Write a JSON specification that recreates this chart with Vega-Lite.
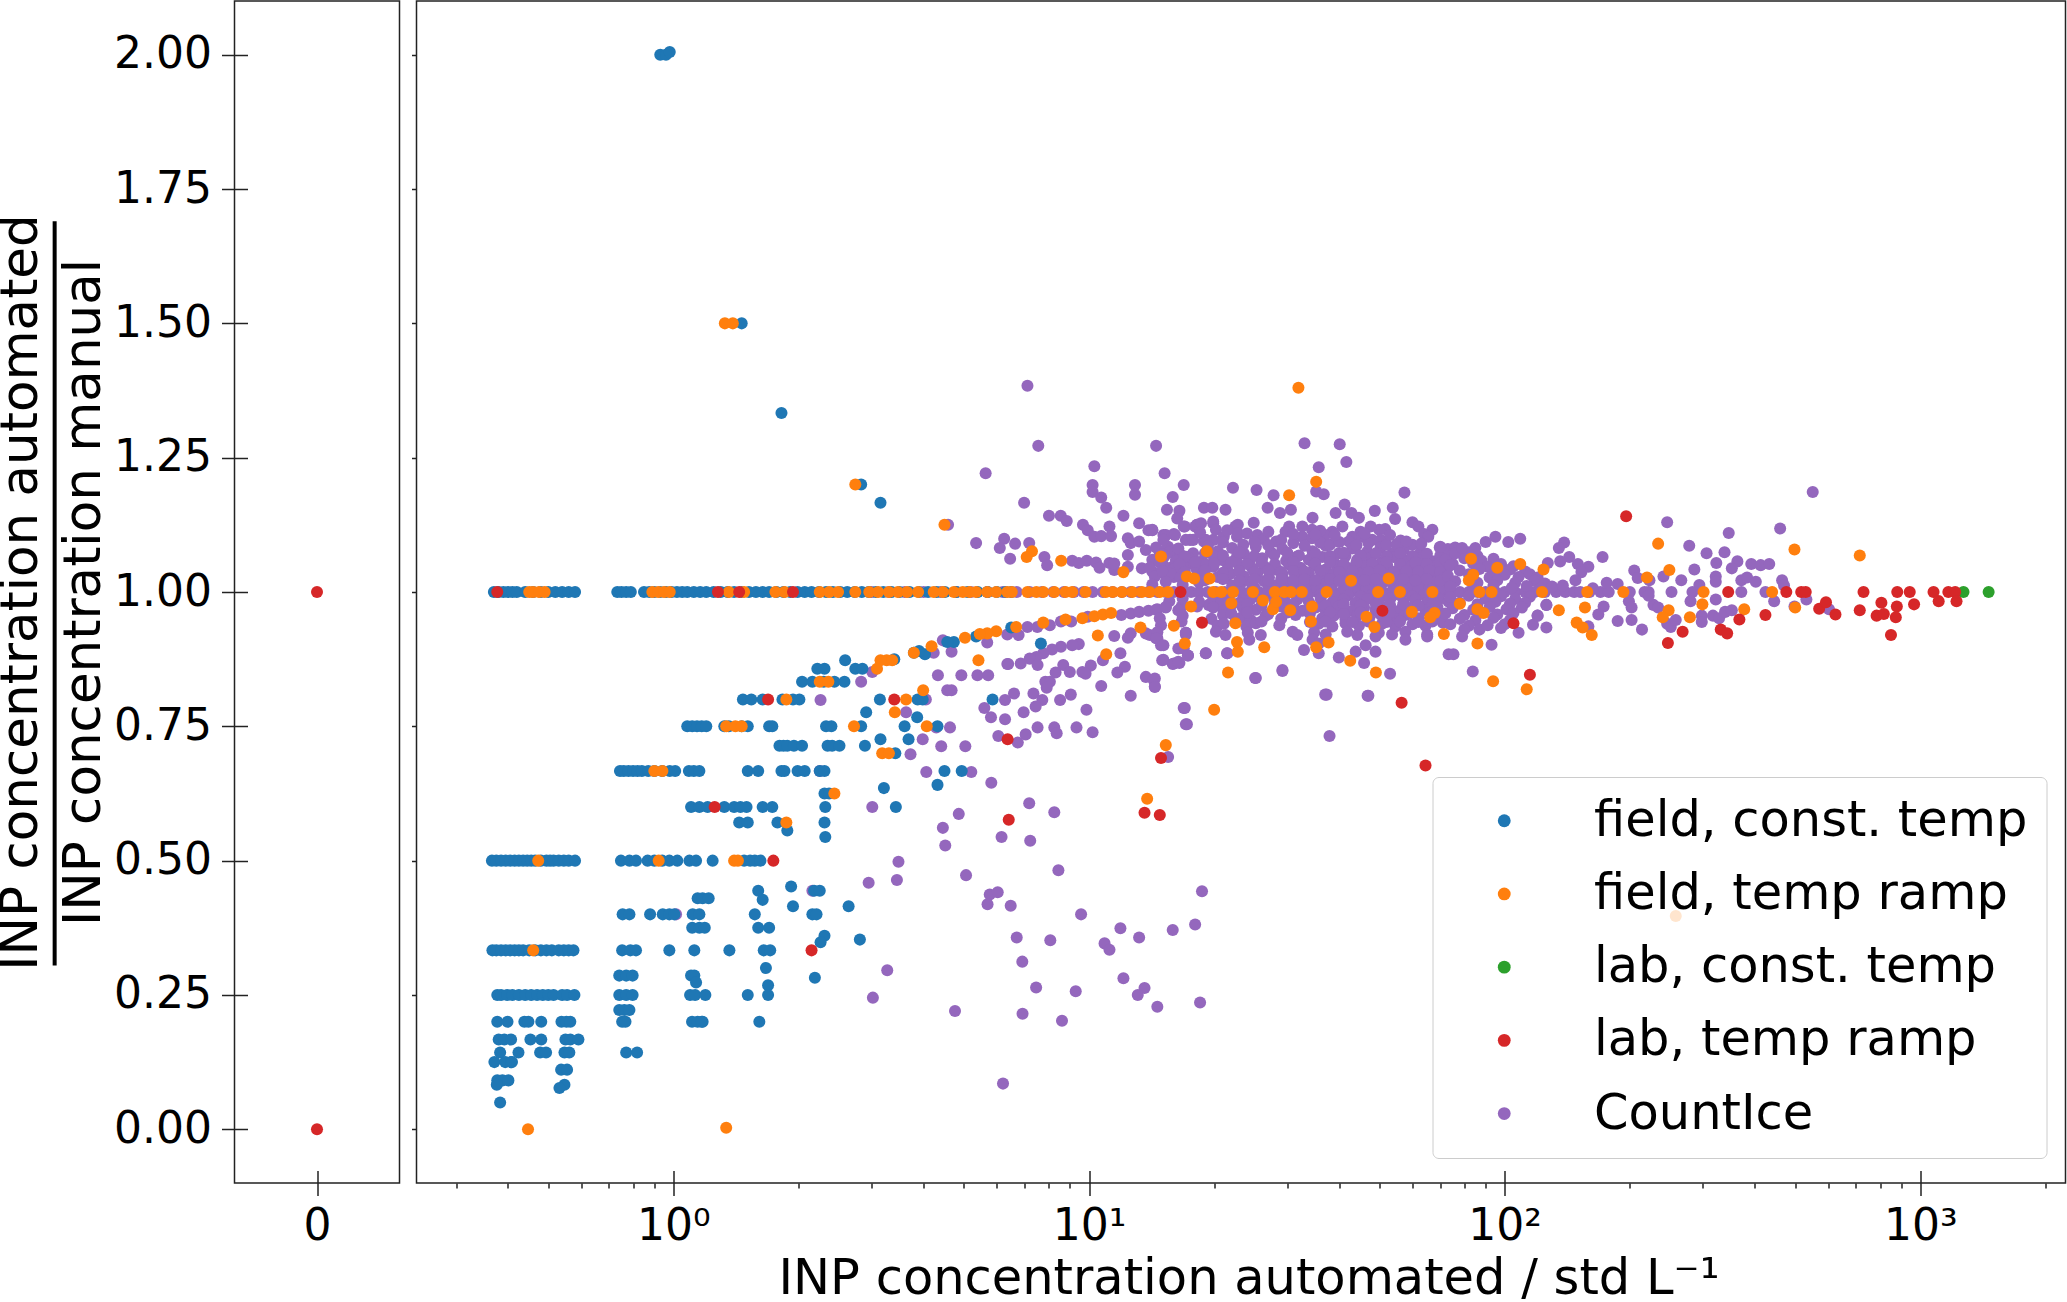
{
"$schema":"https://vega.github.io/schema/vega-lite/v6.json",
"padding":{"left":-5.5,"top":0,"right":0,"bottom":0},
"background":"white",
"spacing":9,
"config":{"view":{"stroke":"#222","strokeWidth":1.5},"font":"DejaVu Sans",
"axis":{"grid":false,"domain":false,"labelFont":"DejaVu Sans","titleFont":"DejaVu Sans","labelColor":"black","titleColor":"black","tickColor":"#222","tickWidth":1.5,"titleFontWeight":"normal","labelFontSize":44,"titleFontSize":51.5}},
"datasets":{
"frac":[{"x":-3.18,"y":1.69,"y2":0.305}],
"zeros":[{"x":0,"y":1},{"x":0,"y":0}],
"tick":[{"x":1,"y":1}],
"countice":[
{"x":3.0,"y":1},{"x":3.3,"y":1},{"x":3.6,"y":1},{"x":4.0,"y":1},{"x":4.4,"y":1},{"x":4.8,"y":1},{"x":5.2,"y":1},{"x":5.7,"y":1},{"x":6.2,"y":1},{"x":6.7,"y":1},{"x":7.2,"y":1},{"x":7.7,"y":1},{"x":8.2,"y":1},{"x":8.7,"y":1},{"x":9.2,"y":1},{"x":9.7,"y":1},{"x":10.2,"y":1},{"x":10.8,"y":1},{"x":11.4,"y":1},{"x":12,"y":1},{"x":12.6,"y":1},{"x":13.2,"y":1},{"x":13.9,"y":1},{"x":14.6,"y":1},{"x":15.3,"y":1},{"x":16,"y":1},{"x":16.8,"y":1},{"x":17.6,"y":1},{"x":18.4,"y":1},{"x":19.3,"y":1},{"x":20.2,"y":1},{"x":21.2,"y":1},{"x":22.2,"y":1},{"x":23.3,"y":1},{"x":24.4,"y":1},{"x":25.6,"y":1},{"x":26.8,"y":1},{"x":28,"y":1},{"x":29.4,"y":1},{"x":30.8,"y":1},{"x":32.3,"y":1},{"x":33.8,"y":1},{"x":35.4,"y":1},{"x":37,"y":1},{"x":38.8,"y":1},{"x":40.6,"y":1},{"x":42.5,"y":1},{"x":44.5,"y":1},{"x":46.6,"y":1},{"x":48.8,"y":1},{"x":51,"y":1},{"x":53.5,"y":1},{"x":56,"y":1},{"x":58.6,"y":1},{"x":61.4,"y":1},{"x":64.3,"y":1},{"x":67.3,"y":1},{"x":70.5,"y":1},{"x":74,"y":1},{"x":78,"y":1},{"x":82,"y":1},{"x":86,"y":1},{"x":90,"y":1},{"x":95,"y":1},{"x":100,"y":1},{"x":106,"y":1},{"x":112,"y":1},{"x":118,"y":1},{"x":125,"y":1},{"x":133,"y":1},{"x":140,"y":1},{"x":147,"y":1},{"x":152,"y":1},{"x":160,"y":1},{"x":170,"y":1},{"x":178,"y":1},{"x":200,"y":1},{"x":217,"y":1},{"x":222,"y":1},{"x":252,"y":1},{"x":283,"y":1},{"x":371,"y":1},{"x":424,"y":1},
{"x":7.11,"y":1.384},{"x":7.55,"y":1.272},{"x":14.5,"y":1.272},{"x":33,"y":1.277},{"x":40.1,"y":1.275},{"x":41.6,"y":1.242},{"x":10.3,"y":1.234},{"x":15.2,"y":1.221},{"x":5.64,"y":1.221},{"x":35.7,"y":1.232},{"x":10.2,"y":1.199},{"x":12.9,"y":1.199},{"x":16.9,"y":1.199},{"x":22.2,"y":1.194},{"x":25.3,"y":1.19},{"x":27.8,"y":1.18},{"x":35.2,"y":1.187},{"x":36.7,"y":1.182},{"x":10.2,"y":1.186},{"x":10.7,"y":1.176},{"x":12.9,"y":1.181},{"x":6.98,"y":1.166},{"x":15.9,"y":1.177},{"x":11,"y":1.157},{"x":8.01,"y":1.142},{"x":8.55,"y":1.142},{"x":8.84,"y":1.132},{"x":12.1,"y":1.142},{"x":15.4,"y":1.153},{"x":16.5,"y":1.151},{"x":18.9,"y":1.157},{"x":19.8,"y":1.157},{"x":21.3,"y":1.153},{"x":41.2,"y":1.163},{"x":26.9,"y":1.157},{"x":28.8,"y":1.147},{"x":30.6,"y":1.153},{"x":24.9,"y":1.129},{"x":34.5,"y":1.138},{"x":39.2,"y":1.147},{"x":42.8,"y":1.147},{"x":44.6,"y":1.138},{"x":48.7,"y":1.151},{"x":53.8,"y":1.157},{"x":54.5,"y":1.136},{"x":57.4,"y":1.185},{"x":4.58,"y":1.125},
{"x":5.35,"y":1.091},{"x":6.25,"y":1.099},{"x":6.64,"y":1.09},{"x":7.18,"y":1.091},{"x":6.1,"y":1.082},{"x":6.46,"y":1.062},{"x":7.81,"y":1.065},{"x":7.93,"y":1.05},{"x":9.11,"y":1.058},{"x":9.45,"y":1.054},{"x":9.88,"y":1.058},{"x":10.4,"y":1.055},{"x":10.6,"y":1.045},{"x":11.2,"y":1.054},{"x":11.5,"y":1.041},
{"x":12.4,"y":1.1},{"x":12.6,"y":1.091},{"x":13.2,"y":1.094},{"x":12.4,"y":1.069},{"x":13.7,"y":1.078},{"x":14.8,"y":1.072},{"x":15.5,"y":1.084},{"x":17.5,"y":1.097},{"x":15.1,"y":1.106},{"x":16,"y":1.108},{"x":18.9,"y":1.094},{"x":19.9,"y":1.128},{"x":16.9,"y":1.122},{"x":18.2,"y":1.125},{"x":13.9,"y":1.115},{"x":13.2,"y":1.128},{"x":14.2,"y":1.115},{"x":9.67,"y":1.125},{"x":9.93,"y":1.115},{"x":10.3,"y":1.103},{"x":10.7,"y":1.104},{"x":11.2,"y":1.122},{"x":11.3,"y":1.104},{"x":15.3,"y":1.078},{"x":16.5,"y":1.072},{"x":15.9,"y":1.047},{"x":17.5,"y":1.053},{"x":18.9,"y":1.053},{"x":20.8,"y":1.06},{"x":13.4,"y":1.044},{"x":14.2,"y":1.038},{"x":15.1,"y":1.035},{"x":16,"y":1.028},{"x":12.4,"y":1.047},{"x":11.5,"y":1.053},{"x":16.2,"y":1.06},{"x":19.9,"y":1.047},{"x":21.4,"y":1.028},{"x":19.9,"y":1.097},{"x":22.5,"y":1.122},{"x":22.7,"y":1.103},
{"x":4.45,"y":0.91},{"x":4.67,"y":0.889},{"x":4.23,"y":0.887},{"x":5.69,"y":0.906},{"x":6.36,"y":0.921},{"x":6.77,"y":0.92},{"x":7.11,"y":0.935},{"x":7.51,"y":0.935},{"x":8.05,"y":0.938},{"x":8.56,"y":0.945},{"x":9.06,"y":0.945},{"x":9.93,"y":0.954},{"x":11.96,"y":0.957},{"x":12.6,"y":0.96},{"x":13.2,"y":0.963},{"x":13.9,"y":0.965},{"x":14.6,"y":0.968},{"x":15.3,"y":0.971},{"x":16.7,"y":0.973},{"x":18.2,"y":0.973},{"x":19.4,"y":0.976},{"x":17.1,"y":0.924},{"x":16.7,"y":0.945},{"x":14.9,"y":0.938},{"x":13.7,"y":0.923},{"x":12.6,"y":0.923},{"x":11.5,"y":0.918},{"x":12.4,"y":0.915},{"x":14.6,"y":0.914},{"x":14.9,"y":0.901},{"x":16.9,"y":0.895},{"x":17.3,"y":0.882},{"x":16.5,"y":0.868},{"x":15.9,"y":0.866},{"x":15,"y":0.873},{"x":19.1,"y":0.886},{"x":21.5,"y":0.886},{"x":25.1,"y":0.84},{"x":29.2,"y":0.853},{"x":37.3,"y":0.809},{"x":46.8,"y":0.807},{"x":37.9,"y":0.732},{"x":17,"y":0.784},{"x":17.2,"y":0.754},{"x":15.5,"y":0.693},
{"x":9.45,"y":0.903},{"x":9.11,"y":0.901},{"x":8.56,"y":0.898},{"x":8.15,"y":0.893},{"x":7.76,"y":0.886},{"x":7.47,"y":0.879},{"x":7.2,"y":0.876},{"x":6.85,"y":0.867},{"x":6.36,"y":0.866},{"x":7.52,"y":0.864},{"x":8.67,"y":0.864},{"x":8.99,"y":0.851},{"x":9.64,"y":0.851},{"x":10.1,"y":0.863},{"x":9.81,"y":0.848},{"x":8.31,"y":0.85},{"x":10.8,"y":0.873},{"x":11.9,"y":0.886},{"x":12.2,"y":0.861},{"x":11.7,"y":0.85},{"x":13.7,"y":0.842},{"x":14.3,"y":0.836},{"x":14.4,"y":0.824},{"x":10.7,"y":0.825},{"x":12.6,"y":0.807},{"x":7.85,"y":0.833},{"x":8.05,"y":0.833},{"x":7.91,"y":0.822},{"x":9.04,"y":0.809},{"x":6.6,"y":0.811},{"x":7.35,"y":0.811},{"x":7.72,"y":0.799},{"x":7.44,"y":0.787},{"x":8.52,"y":0.799},{"x":6.28,"y":0.799},{"x":9.86,"y":0.781},{"x":6.96,"y":0.776},{"x":6.28,"y":0.763},{"x":5.6,"y":0.784},{"x":5.81,"y":0.767},{"x":7.52,"y":0.748},{"x":8.25,"y":0.748},{"x":8.36,"y":0.737},{"x":9.33,"y":0.748},{"x":10.2,"y":0.739},{"x":7.04,"y":0.735},{"x":6.74,"y":0.72},{"x":6.05,"y":0.732},
{"x":4.33,"y":0.845},{"x":4.93,"y":0.845},{"x":5.39,"y":0.845},{"x":5.72,"y":0.845},{"x":6.39,"y":0.866},{"x":4.56,"y":0.817},{"x":4.67,"y":0.817},{"x":2.83,"y":0.833},{"x":2.26,"y":0.799},{"x":3.63,"y":0.776},{"x":4.05,"y":0.8},{"x":4.29,"y":0.748},{"x":4.63,"y":0.748},{"x":3.98,"y":0.726},{"x":4.41,"y":0.713},{"x":5.04,"y":0.713},{"x":3.72,"y":0.698},{"x":4.06,"y":0.665},{"x":5.21,"y":0.665},{"x":5.82,"y":0.645},{"x":7.18,"y":0.607},{"x":8.25,"y":0.59},{"x":4.86,"y":0.587},{"x":3.01,"y":0.6},{"x":4.45,"y":0.561},{"x":6.16,"y":0.544},{"x":7.22,"y":0.537},{"x":4.51,"y":0.528},{"x":3.01,"y":0.851},{"x":1.015,"y":0.4},{"x":2.16,"y":0.444},{"x":2.25,"y":0.667},
{"x":3.48,"y":0.498},{"x":3.45,"y":0.464},{"x":2.95,"y":0.459},{"x":5.06,"y":0.473},{"x":8.44,"y":0.482},{"x":5.77,"y":0.437},{"x":6.03,"y":0.441},{"x":5.7,"y":0.419},{"x":6.48,"y":0.416},{"x":18.7,"y":0.443},{"x":9.57,"y":0.4},{"x":11.9,"y":0.374},{"x":13.2,"y":0.357},{"x":15.9,"y":0.371},{"x":18,"y":0.381},{"x":6.7,"y":0.357},{"x":8.07,"y":0.352},{"x":10.9,"y":0.346},{"x":11.2,"y":0.334},{"x":6.91,"y":0.312},{"x":3.27,"y":0.296},{"x":12.1,"y":0.281},{"x":7.46,"y":0.264},{"x":9.29,"y":0.257},{"x":13.6,"y":0.263},{"x":13.1,"y":0.25},{"x":14.6,"y":0.228},{"x":18.5,"y":0.236},{"x":3.02,"y":0.245},{"x":4.76,"y":0.22},{"x":6.92,"y":0.215},{"x":8.61,"y":0.202},{"x":6.21,"y":0.085},
{"x":60,"y":1.13},{"x":62,"y":1.122},{"x":67,"y":1.116},{"x":64,"y":1.108},{"x":65.5,"y":1.103},{"x":16.3,"y":1.137},{"x":17,"y":1.122},{"x":18,"y":1.122},{"x":18.2,"y":1.125},{"x":18.6,"y":1.128},{"x":19.9,"y":1.131},{"x":22.8,"y":1.125},{"x":22.8,"y":1.109},{"x":40.7,"y":1.122},{"x":38.5,"y":1.112},{"x":37,"y":1.106},{"x":32.6,"y":1.122},{"x":34.4,"y":1.116},{"x":36,"y":1.114},{"x":30.3,"y":1.122},{"x":29.7,"y":1.112},{"x":51.6,"y":1.117},{"x":49.9,"y":1.116},{"x":47.6,"y":1.122},{"x":45,"y":1.112},{"x":43,"y":1.103},{"x":14.2,"y":1.116},{"x":15.3,"y":1.106},{"x":16.1,"y":1.106},{"x":15.1,"y":1.097},{"x":17.1,"y":1.097},{"x":17.8,"y":1.097},{"x":19.1,"y":1.097},{"x":20.2,"y":1.116},{"x":21.1,"y":1.103},{"x":25.4,"y":1.106},{"x":26.3,"y":1.098},{"x":32.6,"y":1.103},{"x":34.4,"y":1.1},{"x":42.2,"y":1.094},{"x":45.4,"y":1.103},{"x":48,"y":1.097},{"x":50.3,"y":1.097},{"x":56.2,"y":1.096},{"x":60,"y":1.088},{"x":69.8,"y":1.083},{"x":28.2,"y":1.094},{"x":29,"y":1.097},{"x":74,"y":1.063},
{"x":14.5,"y":1.083},{"x":15.6,"y":1.074},{"x":16.4,"y":1.081},{"x":17.8,"y":1.072},{"x":19.3,"y":1.085},{"x":20.4,"y":1.076},{"x":22.1,"y":1.082},{"x":23.6,"y":1.071},{"x":25.2,"y":1.084},{"x":27.4,"y":1.074},{"x":29.2,"y":1.08},{"x":34.5,"y":1.076},{"x":37.1,"y":1.086},{"x":39.9,"y":1.072},{"x":43,"y":1.081},{"x":46.7,"y":1.075},{"x":50.3,"y":1.083},{"x":53.6,"y":1.071},{"x":57.2,"y":1.079},{"x":62.8,"y":1.074},
{"x":14.2,"y":1.06},{"x":15.2,"y":1.067},{"x":16.2,"y":1.058},{"x":17.3,"y":1.065},{"x":18.4,"y":1.056},{"x":19.9,"y":1.068},{"x":21.1,"y":1.059},{"x":22.7,"y":1.066},{"x":24.3,"y":1.057},{"x":26.1,"y":1.063},{"x":27.9,"y":1.069},{"x":29.8,"y":1.058},{"x":31.7,"y":1.066},{"x":33.8,"y":1.06},{"x":36.4,"y":1.065},{"x":38.8,"y":1.056},{"x":41.4,"y":1.067},{"x":44.2,"y":1.06},{"x":47.6,"y":1.064},{"x":50.7,"y":1.056},{"x":54.1,"y":1.065},{"x":57.7,"y":1.059},{"x":62.2,"y":1.063},{"x":67,"y":1.057},{"x":71.5,"y":1.061},
{"x":14,"y":1.045},{"x":15.1,"y":1.05},{"x":16,"y":1.043},{"x":16.8,"y":1.049},{"x":18.1,"y":1.044},{"x":19.1,"y":1.051},{"x":21.5,"y":1.042},{"x":23,"y":1.05},{"x":24.7,"y":1.044},{"x":26.4,"y":1.048},{"x":28.4,"y":1.041},{"x":30.3,"y":1.051},{"x":32.3,"y":1.045},{"x":34.8,"y":1.05},{"x":37.1,"y":1.042},{"x":39.5,"y":1.048},{"x":42.2,"y":1.044},{"x":45.5,"y":1.051},{"x":48.9,"y":1.043},{"x":52.2,"y":1.049},{"x":55.7,"y":1.042},{"x":60,"y":1.05},{"x":63.9,"y":1.044},{"x":68.2,"y":1.049},{"x":72.6,"y":1.043},
{"x":14.4,"y":1.029},{"x":15.7,"y":1.034},{"x":16.6,"y":1.027},{"x":18.8,"y":1.035},{"x":20.4,"y":1.028},{"x":21.9,"y":1.034},{"x":23.6,"y":1.029},{"x":25.4,"y":1.035},{"x":27.1,"y":1.027},{"x":29.2,"y":1.033},{"x":31.4,"y":1.029},{"x":33.8,"y":1.035},{"x":36.1,"y":1.027},{"x":38.8,"y":1.034},{"x":41.4,"y":1.029},{"x":44.6,"y":1.035},{"x":47.6,"y":1.028},{"x":51.2,"y":1.033},{"x":55.1,"y":1.029},{"x":58.8,"y":1.035},{"x":62.8,"y":1.027},{"x":67.6,"y":1.034},{"x":72,"y":1.029},
{"x":14.2,"y":1.014},{"x":15.3,"y":1.019},{"x":16.8,"y":1.013},{"x":18.4,"y":1.018},{"x":22.1,"y":1.012},{"x":23.4,"y":1.019},{"x":24.7,"y":1.014},{"x":26.4,"y":1.02},{"x":28.2,"y":1.012},{"x":30,"y":1.018},{"x":32,"y":1.013},{"x":34.5,"y":1.019},{"x":36.8,"y":1.014},{"x":39.2,"y":1.02},{"x":41.8,"y":1.012},{"x":45,"y":1.018},{"x":48,"y":1.014},{"x":51.7,"y":1.02},{"x":55.7,"y":1.012},{"x":59.4,"y":1.017},{"x":63.3,"y":1.013},{"x":68.2,"y":1.019},{"x":72.6,"y":1.012},
{"x":23,"y":1.006},{"x":25,"y":1.008},{"x":27,"y":1.005},{"x":29,"y":1.007},{"x":31,"y":1.006},{"x":33,"y":1.008},{"x":35.5,"y":1.005},{"x":38,"y":1.007},{"x":41,"y":1.006},{"x":43.5,"y":1.008},{"x":46.5,"y":1.005},{"x":50,"y":1.007},{"x":54,"y":1.006},{"x":58,"y":1.008},{"x":62,"y":1.005},{"x":66,"y":1.007},{"x":70,"y":1.006},
{"x":23.5,"y":0.994},{"x":25.5,"y":0.992},{"x":27.5,"y":0.995},{"x":29.5,"y":0.993},{"x":31.5,"y":0.994},{"x":33.5,"y":0.992},{"x":36,"y":0.995},{"x":39,"y":0.993},{"x":42,"y":0.994},{"x":45,"y":0.992},{"x":48,"y":0.995},{"x":52,"y":0.993},{"x":56,"y":0.994},{"x":60,"y":0.992},{"x":64,"y":0.995},{"x":68,"y":0.993},
{"x":15.6,"y":0.983},{"x":16.8,"y":0.988},{"x":18.4,"y":0.982},{"x":19.9,"y":0.987},{"x":20.8,"y":0.981},{"x":21.7,"y":0.986},{"x":23,"y":0.98},{"x":24.5,"y":0.987},{"x":26.1,"y":0.982},{"x":27.9,"y":0.988},{"x":29.8,"y":0.98},{"x":31.7,"y":0.986},{"x":33.8,"y":0.982},{"x":36.1,"y":0.988},{"x":38.5,"y":0.981},{"x":41,"y":0.986},{"x":43.8,"y":0.98},{"x":46.7,"y":0.987},{"x":49.8,"y":0.982},{"x":53.1,"y":0.988},{"x":57.2,"y":0.981},{"x":61,"y":0.986},{"x":65.1,"y":0.98},{"x":69.5,"y":0.987},{"x":73.3,"y":0.982},
{"x":14.5,"y":0.967},{"x":15.3,"y":0.972},{"x":16.4,"y":0.966},{"x":19.9,"y":0.971},{"x":21.1,"y":0.965},{"x":23.4,"y":0.972},{"x":25.2,"y":0.967},{"x":29,"y":0.973},{"x":32.6,"y":0.965},{"x":35.1,"y":0.971},{"x":37.1,"y":0.966},{"x":39.9,"y":0.973},{"x":43,"y":0.965},{"x":45.9,"y":0.971},{"x":48.9,"y":0.967},{"x":52.2,"y":0.973},{"x":55.7,"y":0.965},{"x":60,"y":0.971},{"x":64.5,"y":0.966},{"x":68.9,"y":0.972},
{"x":14.8,"y":0.951},{"x":16.8,"y":0.956},{"x":19.7,"y":0.95},{"x":21,"y":0.957},{"x":23.2,"y":0.952},{"x":24.5,"y":0.948},{"x":26.6,"y":0.956},{"x":29,"y":0.95},{"x":31.4,"y":0.957},{"x":36.4,"y":0.951},{"x":38.8,"y":0.956},{"x":41.4,"y":0.949},{"x":44.2,"y":0.957},{"x":47.2,"y":0.951},{"x":50.7,"y":0.956},{"x":54.6,"y":0.95},{"x":57.7,"y":0.957},{"x":62.2,"y":0.951},{"x":69.5,"y":0.955},
{"x":20.4,"y":0.937},{"x":21.1,"y":0.941},{"x":23.9,"y":0.936},{"x":25.2,"y":0.942},{"x":28.7,"y":0.938},{"x":35.7,"y":0.941},{"x":38.5,"y":0.936},{"x":41.4,"y":0.942},{"x":44.6,"y":0.937},{"x":50.7,"y":0.941},{"x":54.6,"y":0.936},{"x":60,"y":0.94},{"x":64.5,"y":0.937},
{"x":14,"y":0.92},{"x":14.6,"y":0.925},{"x":17.1,"y":0.921},{"x":20.2,"y":0.926},{"x":21.3,"y":0.92},{"x":24.1,"y":0.924},{"x":25.9,"y":0.92},{"x":30.9,"y":0.926},{"x":31.7,"y":0.92},{"x":34.8,"y":0.925},{"x":37.1,"y":0.921},{"x":41.8,"y":0.926},{"x":44.2,"y":0.92},{"x":49.8,"y":0.924},{"x":53.6,"y":0.921},{"x":57.7,"y":0.926},{"x":65.1,"y":0.921},
{"x":24.3,"y":0.911},{"x":14.5,"y":0.914},{"x":15.1,"y":0.901},{"x":17.1,"y":0.924},{"x":16.4,"y":0.895},{"x":34.5,"y":0.911},{"x":35.7,"y":0.904},{"x":46.3,"y":0.901},{"x":48.9,"y":0.917},{"x":57.7,"y":0.911},{"x":65.1,"y":0.917},
{"x":21,"y":1.092},{"x":23.5,"y":1.088},{"x":25,"y":1.093},{"x":27,"y":1.087},{"x":31,"y":1.091},{"x":33,"y":1.086},{"x":36,"y":1.092},{"x":38,"y":1.088},{"x":40,"y":1.093},{"x":44,"y":1.087},{"x":47,"y":1.091},{"x":52,"y":1.088},{"x":55,"y":1.089},{"x":58,"y":1.094},{"x":63,"y":1.09},
{"x":18.5,"y":1.111},{"x":21.5,"y":1.115},{"x":24,"y":1.109},{"x":27,"y":1.112},{"x":31,"y":1.108},{"x":35,"y":1.107},{"x":39,"y":1.106},{"x":46,"y":1.109},{"x":53,"y":1.106},
{"x":15,"y":1.07},{"x":17,"y":1.066},{"x":19,"y":1.072},{"x":21,"y":1.068},{"x":23,"y":1.074},{"x":25,"y":1.067},{"x":30,"y":1.073},{"x":32,"y":1.068},{"x":35,"y":1.072},{"x":38,"y":1.067},{"x":41,"y":1.073},{"x":45,"y":1.068},{"x":49,"y":1.072},{"x":52,"y":1.066},{"x":56,"y":1.072},{"x":60,"y":1.067},{"x":65,"y":1.071},{"x":70,"y":1.068},
{"x":14.8,"y":1.055},{"x":16.5,"y":1.052},{"x":18,"y":1.056},{"x":20,"y":1.053},{"x":22,"y":1.056},{"x":24,"y":1.052},{"x":26,"y":1.055},{"x":28,"y":1.052},{"x":31,"y":1.056},{"x":35,"y":1.053},{"x":38,"y":1.056},{"x":41,"y":1.052},{"x":44,"y":1.055},{"x":48,"y":1.053},{"x":52,"y":1.056},{"x":56,"y":1.052},{"x":61,"y":1.055},{"x":65,"y":1.052},{"x":70,"y":1.055},{"x":75,"y":1.052},
{"x":15,"y":1.039},{"x":17,"y":1.037},{"x":19,"y":1.04},{"x":21,"y":1.036},{"x":23,"y":1.039},{"x":25,"y":1.037},{"x":27,"y":1.04},{"x":29,"y":1.037},{"x":31,"y":1.039},{"x":33,"y":1.038},{"x":36,"y":1.04},{"x":40,"y":1.037},{"x":43,"y":1.039},{"x":47,"y":1.037},{"x":50,"y":1.04},{"x":54,"y":1.037},{"x":58,"y":1.039},{"x":62,"y":1.038},{"x":66,"y":1.04},{"x":70,"y":1.037},
{"x":19,"y":1.022},{"x":21,"y":1.024},{"x":23,"y":1.021},{"x":25,"y":1.024},{"x":27,"y":1.022},{"x":29,"y":1.024},{"x":31,"y":1.021},{"x":33,"y":1.024},{"x":35,"y":1.022},{"x":38,"y":1.024},{"x":40,"y":1.021},{"x":43,"y":1.024},{"x":46,"y":1.022},{"x":49,"y":1.024},{"x":53,"y":1.021},{"x":57,"y":1.024},{"x":61,"y":1.022},{"x":65,"y":1.024},{"x":70,"y":1.021},
{"x":22,"y":0.976},{"x":24,"y":0.977},{"x":26,"y":0.975},{"x":28,"y":0.977},{"x":31,"y":0.976},{"x":34,"y":0.977},{"x":37,"y":0.975},{"x":41,"y":0.977},{"x":45,"y":0.975},{"x":49,"y":0.977},{"x":53,"y":0.976},{"x":57,"y":0.977},{"x":62,"y":0.975},{"x":67,"y":0.976},
{"x":22,"y":0.96},{"x":24,"y":0.962},{"x":27,"y":0.959},{"x":30,"y":0.962},{"x":34,"y":0.96},{"x":38,"y":0.962},{"x":41,"y":0.959},{"x":45,"y":0.962},{"x":50,"y":0.96},{"x":53,"y":0.962},{"x":59,"y":0.96},{"x":66,"y":0.962},
{"x":22.5,"y":0.944},{"x":26,"y":0.945},{"x":34,"y":0.944},{"x":37,"y":0.945},{"x":43,"y":0.944},{"x":47,"y":0.945},{"x":52,"y":0.944},{"x":56,"y":0.945},{"x":62,"y":0.944},{"x":67,"y":0.945},{"x":71,"y":0.943},
{"x":15.1,"y":0.874},{"x":16,"y":0.867},{"x":16.4,"y":0.87},{"x":17.3,"y":0.882},{"x":19.1,"y":0.886},{"x":21.5,"y":0.886},{"x":32.9,"y":0.892},{"x":35.7,"y":0.886},{"x":39.9,"y":0.878},{"x":43.8,"y":0.889},{"x":45.9,"y":0.868},{"x":48.9,"y":0.889},{"x":53,"y":0.848},{"x":73.3,"y":0.884},{"x":29.2,"y":0.855},{"x":25.2,"y":0.84},{"x":14.4,"y":0.839},{"x":14.4,"y":0.823},{"x":37,"y":0.809},{"x":47,"y":0.807},{"x":16.9,"y":0.784},{"x":17.1,"y":0.754},
{"x":73,"y":1.08},{"x":76,"y":1.083},{"x":79,"y":1.077},{"x":75,"y":1.07},{"x":82,"y":1.074},{"x":86,"y":1.067},{"x":72,"y":1.06},{"x":80,"y":1.063},{"x":88,"y":1.058},{"x":94,"y":1.062},{"x":74,"y":1.05},{"x":84,"y":1.053},{"x":91,"y":1.047},{"x":98,"y":1.052},{"x":105,"y":1.048},{"x":78,"y":1.04},{"x":87,"y":1.043},{"x":95,"y":1.037},{"x":103,"y":1.042},{"x":112,"y":1.038},{"x":73,"y":1.03},{"x":82,"y":1.033},{"x":92,"y":1.027},{"x":100,"y":1.032},{"x":108,"y":1.028},{"x":115,"y":1.033},{"x":120,"y":1.027},{"x":76,"y":1.02},{"x":86,"y":1.017},{"x":96,"y":1.022},{"x":106,"y":1.017},{"x":118,"y":1.021},{"x":125,"y":1.016},{"x":74,"y":1.01},{"x":84,"y":1.008},{"x":94,"y":1.012},{"x":104,"y":1.008},{"x":113,"y":1.011},{"x":122,"y":1.007},{"x":130,"y":1.01},{"x":138,"y":1.012},{"x":74,"y":0.99},{"x":82,"y":0.993},{"x":90,"y":0.988},{"x":98,"y":0.992},{"x":106,"y":0.987},{"x":115,"y":0.991},{"x":78,"y":0.98},{"x":86,"y":0.977},{"x":95,"y":0.982},{"x":103,"y":0.978},{"x":112,"y":0.98},{"x":126,"y":0.976},{"x":75,"y":0.97},{"x":84,"y":0.967},{"x":92,"y":0.972},{"x":101,"y":0.968},{"x":110,"y":0.971},{"x":120,"y":0.956},{"x":72,"y":0.96},{"x":80,"y":0.957},{"x":88,"y":0.962},{"x":96,"y":0.958},{"x":105,"y":0.961},{"x":78,"y":0.95},{"x":85,"y":0.947},{"x":94,"y":0.952},{"x":103,"y":0.948},{"x":74,"y":0.94},{"x":82,"y":0.937},{"x":100,"y":0.94},{"x":117,"y":0.939},{"x":80,"y":0.93},{"x":98,"y":0.933},{"x":126,"y":0.934},{"x":108,"y":0.924},{"x":93,"y":0.902},{"x":79,"y":0.917},{"x":75.3,"y":0.884},{"x":83.8,"y":0.852},{"x":87,"y":0.93},{"x":91,"y":0.938},{"x":70,"y":1.084},{"x":76,"y":1.072},{"x":79,"y":1.082},{"x":109,"y":1.099},{"x":102,"y":1.093},{"x":95,"y":1.103},{"x":90,"y":1.093},{"x":85,"y":1.082},
{"x":551,"y":1.186},{"x":246,"y":1.13},{"x":346,"y":1.11},{"x":460,"y":1.118},{"x":278,"y":1.086},{"x":306,"y":1.072},{"x":338,"y":1.074},{"x":323,"y":1.054},{"x":363,"y":1.057},{"x":392,"y":1.052},{"x":413,"y":1.05},{"x":433,"y":1.052},{"x":352,"y":1.044},{"x":371,"y":1.022},{"x":383,"y":1.027},{"x":402,"y":1.019},{"x":205,"y":1.04},{"x":209,"y":1.026},{"x":241,"y":1.029},{"x":266,"y":1.022},{"x":286,"y":1.042},{"x":294,"y":1.013},{"x":322,"y":1.029},{"x":322,"y":1.019},{"x":223,"y":1.022},{"x":465,"y":1.022},{"x":470,"y":1.012},{"x":172,"y":1.065},{"x":139,"y":1.092},{"x":135,"y":1.082},{"x":143,"y":1.065},{"x":136,"y":1.057},{"x":127,"y":1.054},{"x":150,"y":1.052},{"x":159,"y":1.047},{"x":153,"y":1.037},{"x":148,"y":1.022},{"x":163,"y":1.007},{"x":176,"y":1.017},{"x":187,"y":1.015},{"x":199,"y":0.983},{"x":202,"y":0.971},{"x":228,"y":0.976},{"x":234,"y":0.971},{"x":222,"y":0.993},{"x":173,"y":0.973},{"x":168,"y":0.958},{"x":187,"y":0.946},{"x":202,"y":0.948},{"x":214,"y":0.93},{"x":246,"y":0.941},{"x":251,"y":0.935},{"x":258,"y":0.948},{"x":298,"y":0.956},{"x":298,"y":0.944},{"x":317,"y":0.956},{"x":328,"y":0.951},{"x":339,"y":0.963},{"x":352,"y":0.966},{"x":280,"y":0.983},{"x":322,"y":0.986},{"x":445,"y":0.983},{"x":532,"y":0.986},{"x":603,"y":0.968},{"x":498,"y":0.973},{"x":159,"y":0.936},{"x":126,"y":0.976},{"x":120,"y":0.956}
],
"fieldconst":[
{"x":0.93,"y":2},{"x":0.96,"y":2},{"x":0.98,"y":2.005},{"x":1.46,"y":1.5},{"x":1.82,"y":1.333},{"x":2.83,"y":1.2},{"x":3.15,"y":1.166},
{"x":0.37,"y":1},{"x":0.38,"y":1},{"x":0.39,"y":1},{"x":0.4,"y":1},{"x":0.41,"y":1},{"x":0.42,"y":1},{"x":0.44,"y":1},{"x":0.46,"y":1},{"x":0.48,"y":1},{"x":0.5,"y":1},{"x":0.52,"y":1},{"x":0.54,"y":1},{"x":0.56,"y":1},{"x":0.58,"y":1},{"x":0.733,"y":1},{"x":0.75,"y":1},{"x":0.77,"y":1},{"x":0.79,"y":1},{"x":0.85,"y":1},{"x":0.875,"y":1},{"x":0.9,"y":1},{"x":0.93,"y":1},{"x":0.96,"y":1},{"x":0.99,"y":1},{"x":1.02,"y":1},{"x":1.05,"y":1},{"x":1.08,"y":1},{"x":1.12,"y":1},{"x":1.16,"y":1},{"x":1.2,"y":1},{"x":1.25,"y":1},{"x":1.3,"y":1},{"x":1.35,"y":1},{"x":1.4,"y":1},{"x":1.46,"y":1},{"x":1.52,"y":1},{"x":1.58,"y":1},{"x":1.64,"y":1},{"x":1.7,"y":1},{"x":1.77,"y":1},{"x":1.84,"y":1},{"x":1.91,"y":1},{"x":1.99,"y":1},{"x":2.07,"y":1},{"x":2.15,"y":1},{"x":2.24,"y":1},{"x":2.33,"y":1},{"x":2.42,"y":1},{"x":2.52,"y":1},{"x":2.62,"y":1},{"x":2.73,"y":1},{"x":2.84,"y":1},{"x":2.95,"y":1},{"x":3.07,"y":1},{"x":3.2,"y":1},{"x":3.35,"y":1},{"x":3.5,"y":1},{"x":3.7,"y":1},{"x":3.9,"y":1},{"x":4.1,"y":1},{"x":4.3,"y":1},{"x":4.5,"y":1},{"x":4.8,"y":1},{"x":5.1,"y":1},{"x":5.4,"y":1},{"x":5.7,"y":1},{"x":6,"y":1},{"x":6.3,"y":1},{"x":6.5,"y":1},
{"x":7.66,"y":0.904},{"x":5.86,"y":0.8},{"x":4.73,"y":0.907},{"x":4.56,"y":0.907},{"x":5.35,"y":0.917},{"x":4.03,"y":0.884},{"x":3.79,"y":0.887},{"x":2.59,"y":0.873},{"x":2.22,"y":0.857},{"x":2.31,"y":0.857},{"x":2.74,"y":0.857},{"x":2.85,"y":0.857},{"x":2.04,"y":0.833},{"x":2.16,"y":0.833},{"x":2.3,"y":0.833},{"x":2.44,"y":0.833},{"x":2.58,"y":0.833},{"x":6.5,"y":0.934},{"x":3.4,"y":0.875},{"x":3.9,"y":0.89},
{"x":1.47,"y":0.8},{"x":1.54,"y":0.8},{"x":1.64,"y":0.8},{"x":1.83,"y":0.8},{"x":1.94,"y":0.8},{"x":2.01,"y":0.8},{"x":3.14,"y":0.8},{"x":3.87,"y":0.8},{"x":3.98,"y":0.8},{"x":2.91,"y":0.776},{"x":3.86,"y":0.767},
{"x":1.08,"y":0.75},{"x":1.11,"y":0.75},{"x":1.14,"y":0.75},{"x":1.17,"y":0.75},{"x":1.2,"y":0.75},{"x":1.326,"y":0.75},{"x":1.36,"y":0.75},{"x":1.46,"y":0.75},{"x":1.51,"y":0.75},{"x":1.7,"y":0.75},{"x":1.73,"y":0.75},{"x":2.33,"y":0.75},{"x":2.4,"y":0.75},{"x":2.83,"y":0.75},{"x":3.6,"y":0.75},{"x":4.32,"y":0.75},
{"x":3.15,"y":0.726},{"x":3.68,"y":0.726},{"x":1.8,"y":0.714},{"x":1.84,"y":0.714},{"x":1.88,"y":0.714},{"x":1.95,"y":0.714},{"x":2.04,"y":0.714},{"x":2.35,"y":0.714},{"x":2.41,"y":0.714},{"x":2.51,"y":0.714},{"x":2.89,"y":0.714},{"x":3.42,"y":0.7},
{"x":0.744,"y":0.667},{"x":0.76,"y":0.667},{"x":0.78,"y":0.667},{"x":0.8,"y":0.667},{"x":0.82,"y":0.667},{"x":0.84,"y":0.667},{"x":0.87,"y":0.667},{"x":0.9,"y":0.667},{"x":0.94,"y":0.667},{"x":0.98,"y":0.667},{"x":1.01,"y":0.667},{"x":1.09,"y":0.667},{"x":1.12,"y":0.667},{"x":1.155,"y":0.667},{"x":1.51,"y":0.667},{"x":1.6,"y":0.667},{"x":1.82,"y":0.667},{"x":1.85,"y":0.667},{"x":1.99,"y":0.667},{"x":2.07,"y":0.667},{"x":2.25,"y":0.667},{"x":2.31,"y":0.667},{"x":4.49,"y":0.667},{"x":4.94,"y":0.667},{"x":4.32,"y":0.641},{"x":3.21,"y":0.635},{"x":2.31,"y":0.625},{"x":2.37,"y":0.625},
{"x":1.103,"y":0.6},{"x":1.155,"y":0.6},{"x":1.209,"y":0.6},{"x":1.326,"y":0.6},{"x":1.4,"y":0.6},{"x":1.45,"y":0.6},{"x":1.5,"y":0.6},{"x":1.64,"y":0.6},{"x":1.73,"y":0.6},{"x":2.32,"y":0.6},{"x":3.43,"y":0.6},{"x":1.44,"y":0.571},{"x":1.51,"y":0.571},{"x":1.78,"y":0.571},{"x":2.31,"y":0.571},{"x":1.88,"y":0.556},{"x":2.32,"y":0.544},
{"x":0.366,"y":0.5},{"x":0.375,"y":0.5},{"x":0.385,"y":0.5},{"x":0.395,"y":0.5},{"x":0.405,"y":0.5},{"x":0.415,"y":0.5},{"x":0.425,"y":0.5},{"x":0.435,"y":0.5},{"x":0.445,"y":0.5},{"x":0.455,"y":0.5},{"x":0.465,"y":0.5},{"x":0.48,"y":0.5},{"x":0.495,"y":0.5},{"x":0.505,"y":0.5},{"x":0.515,"y":0.5},{"x":0.53,"y":0.5},{"x":0.545,"y":0.5},{"x":0.56,"y":0.5},{"x":0.58,"y":0.5},{"x":0.748,"y":0.5},{"x":0.784,"y":0.5},{"x":0.813,"y":0.5},{"x":0.867,"y":0.5},{"x":0.9,"y":0.5},{"x":0.94,"y":0.5},{"x":0.978,"y":0.5},{"x":1.022,"y":0.5},{"x":1.093,"y":0.5},{"x":1.134,"y":0.5},{"x":1.243,"y":0.5},{"x":1.48,"y":0.5},{"x":1.53,"y":0.5},{"x":1.57,"y":0.5},{"x":1.62,"y":0.5},
{"x":1.92,"y":0.452},{"x":1.6,"y":0.444},{"x":2.18,"y":0.444},{"x":2.25,"y":0.444},{"x":1.144,"y":0.43},{"x":1.176,"y":0.43},{"x":1.216,"y":0.43},{"x":1.64,"y":0.427},{"x":1.94,"y":0.415},{"x":2.64,"y":0.415},{"x":0.755,"y":0.4},{"x":0.784,"y":0.4},{"x":0.879,"y":0.4},{"x":0.943,"y":0.4},{"x":0.978,"y":0.4},{"x":1.006,"y":0.4},{"x":1.113,"y":0.4},{"x":1.155,"y":0.4},{"x":1.57,"y":0.4},{"x":2.16,"y":0.4},{"x":2.21,"y":0.4},{"x":1.11,"y":0.375},{"x":1.155,"y":0.375},{"x":1.19,"y":0.375},{"x":1.6,"y":0.375},{"x":1.7,"y":0.375},{"x":2.31,"y":0.36},{"x":2.26,"y":0.348},{"x":2.81,"y":0.353},
{"x":0.367,"y":0.333},{"x":0.375,"y":0.333},{"x":0.385,"y":0.333},{"x":0.395,"y":0.333},{"x":0.405,"y":0.333},{"x":0.415,"y":0.333},{"x":0.425,"y":0.333},{"x":0.435,"y":0.333},{"x":0.45,"y":0.333},{"x":0.465,"y":0.333},{"x":0.48,"y":0.333},{"x":0.495,"y":0.333},{"x":0.51,"y":0.333},{"x":0.53,"y":0.333},{"x":0.545,"y":0.333},{"x":0.56,"y":0.333},{"x":0.575,"y":0.333},{"x":0.753,"y":0.333},{"x":0.788,"y":0.333},{"x":0.813,"y":0.333},{"x":0.978,"y":0.333},{"x":1.123,"y":0.333},{"x":1.364,"y":0.333},{"x":1.65,"y":0.333},{"x":1.71,"y":0.333},{"x":1.67,"y":0.3},{"x":2.19,"y":0.282},
{"x":0.741,"y":0.286},{"x":0.77,"y":0.286},{"x":0.798,"y":0.286},{"x":1.103,"y":0.286},{"x":1.123,"y":0.286},{"x":1.134,"y":0.273},{"x":1.69,"y":0.268},
{"x":0.377,"y":0.25},{"x":0.385,"y":0.25},{"x":0.398,"y":0.25},{"x":0.41,"y":0.25},{"x":0.425,"y":0.25},{"x":0.44,"y":0.25},{"x":0.455,"y":0.25},{"x":0.47,"y":0.25},{"x":0.485,"y":0.25},{"x":0.5,"y":0.25},{"x":0.515,"y":0.25},{"x":0.54,"y":0.25},{"x":0.555,"y":0.25},{"x":0.578,"y":0.25},{"x":0.741,"y":0.25},{"x":0.77,"y":0.25},{"x":0.798,"y":0.25},{"x":1.097,"y":0.25},{"x":1.128,"y":0.25},{"x":1.194,"y":0.25},{"x":1.51,"y":0.25},{"x":1.69,"y":0.25},
{"x":0.741,"y":0.222},{"x":0.762,"y":0.222},{"x":0.784,"y":0.222},
{"x":0.377,"y":0.2},{"x":0.399,"y":0.2},{"x":0.438,"y":0.2},{"x":0.448,"y":0.2},{"x":0.481,"y":0.2},{"x":0.538,"y":0.2},{"x":0.553,"y":0.2},{"x":0.565,"y":0.2},{"x":0.753,"y":0.2},{"x":0.767,"y":0.2},{"x":1.109,"y":0.2},{"x":1.144,"y":0.2},{"x":1.176,"y":0.2},{"x":1.17,"y":0.2},{"x":1.61,"y":0.2},
{"x":0.38,"y":0.167},{"x":0.392,"y":0.167},{"x":0.407,"y":0.167},{"x":0.453,"y":0.167},{"x":0.481,"y":0.167},{"x":0.55,"y":0.167},{"x":0.565,"y":0.167},{"x":0.591,"y":0.167},
{"x":0.383,"y":0.143},{"x":0.424,"y":0.143},{"x":0.478,"y":0.143},{"x":0.494,"y":0.143},{"x":0.547,"y":0.143},{"x":0.562,"y":0.143},{"x":0.77,"y":0.143},{"x":0.818,"y":0.143},
{"x":0.371,"y":0.125},{"x":0.394,"y":0.125},{"x":0.407,"y":0.125},{"x":0.409,"y":0.125},{"x":0.537,"y":0.111},{"x":0.555,"y":0.111},{"x":0.377,"y":0.091},{"x":0.388,"y":0.091},{"x":0.401,"y":0.091},{"x":0.376,"y":0.083},{"x":0.547,"y":0.083},{"x":0.532,"y":0.077},{"x":0.383,"y":0.05}
],
"labconst":[{"x":1270,"y":1},{"x":1460,"y":1}],
"fieldramp":[
{"x":0.45,"y":1},{"x":0.46,"y":1},{"x":0.475,"y":1},{"x":0.49,"y":1},{"x":0.89,"y":1},{"x":0.92,"y":1},{"x":0.95,"y":1},{"x":0.98,"y":1},{"x":1.36,"y":1},{"x":1.48,"y":1},{"x":1.76,"y":1},{"x":1.85,"y":1},{"x":2.25,"y":1},{"x":2.37,"y":1},{"x":2.49,"y":1},{"x":2.74,"y":1},{"x":2.96,"y":1},{"x":3.11,"y":1},{"x":3.3,"y":1},{"x":3.47,"y":1},{"x":3.65,"y":1},{"x":3.88,"y":1},{"x":4.23,"y":1},{"x":4.45,"y":1},{"x":4.73,"y":1},{"x":4.97,"y":1},{"x":5.16,"y":1},{"x":5.35,"y":1},{"x":5.69,"y":1},{"x":5.98,"y":1},{"x":6.36,"y":1},{"x":6.52,"y":1},{"x":7.11,"y":1},{"x":7.47,"y":1},{"x":7.76,"y":1},{"x":8.25,"y":1},{"x":8.78,"y":1},{"x":9.11,"y":1},{"x":9.81,"y":1},{"x":10.97,"y":1},{"x":11.4,"y":1},{"x":12,"y":1},{"x":12.7,"y":1},{"x":13.4,"y":1},{"x":14,"y":1},{"x":14.8,"y":1},{"x":15.5,"y":1},{"x":19.9,"y":1},{"x":20.8,"y":1},{"x":22.2,"y":1},{"x":24.8,"y":1},{"x":28,"y":1},{"x":29.5,"y":1},{"x":30.6,"y":1},{"x":32.5,"y":1},{"x":37.3,"y":1},{"x":49.6,"y":1},{"x":56,"y":1},{"x":67,"y":1},{"x":87,"y":1},{"x":93,"y":1},{"x":123,"y":1},{"x":158,"y":1},{"x":193,"y":1},{"x":301,"y":1},{"x":440,"y":1},
{"x":1.33,"y":1.5},{"x":1.39,"y":1.5},{"x":2.74,"y":1.2},{"x":4.49,"y":1.125},{"x":31.9,"y":1.38},{"x":35.2,"y":1.205},{"x":30.3,"y":1.18},{"x":7.29,"y":1.076},{"x":7.08,"y":1.065},{"x":8.57,"y":1.058},{"x":17.2,"y":1.029},{"x":17.9,"y":1.025},{"x":19.5,"y":1.025},{"x":14.9,"y":1.066},{"x":19.2,"y":1.076},{"x":12.1,"y":1.037},{"x":42.7,"y":1.021},{"x":52.6,"y":1.025},{"x":234,"y":1.09},{"x":498,"y":1.079},{"x":715,"y":1.068},{"x":249,"y":1.041},{"x":109,"y":1.052},{"x":96,"y":1.045},{"x":124,"y":1.042},{"x":83,"y":1.062},{"x":84,"y":1.032},{"x":82,"y":1.022},{"x":220,"y":1.027},
{"x":7.76,"y":0.943},{"x":8.78,"y":0.949},{"x":9.64,"y":0.951},{"x":10.3,"y":0.955},{"x":10.8,"y":0.958},{"x":11.3,"y":0.961},{"x":6.68,"y":0.935},{"x":5.98,"y":0.927},{"x":5.69,"y":0.923},{"x":5.46,"y":0.922},{"x":5.03,"y":0.915},{"x":4.18,"y":0.899},{"x":3.79,"y":0.887},{"x":3.15,"y":0.873},{"x":3.26,"y":0.873},{"x":3.36,"y":0.873},{"x":3.09,"y":0.857},{"x":5.42,"y":0.873},{"x":2.25,"y":0.833},{"x":2.36,"y":0.833},{"x":1.87,"y":0.8},{"x":3.63,"y":0.8},{"x":3.99,"y":0.817},{"x":3.41,"y":0.776},{"x":4.07,"y":0.75},{"x":2.72,"y":0.75},{"x":1.34,"y":0.75},{"x":1.41,"y":0.75},{"x":1.46,"y":0.75},{"x":3.18,"y":0.7},{"x":3.3,"y":0.7},{"x":2.44,"y":0.625},{"x":1.87,"y":0.571},{"x":1.4,"y":0.5},{"x":1.43,"y":0.5},{"x":0.473,"y":0.5},{"x":0.922,"y":0.5},{"x":0.9,"y":0.667},{"x":0.941,"y":0.667},{"x":0.46,"y":0.333},{"x":0.447,"y":0},{"x":1.34,"y":0.003},
{"x":10.5,"y":0.919},{"x":13.3,"y":0.934},{"x":16,"y":0.937},{"x":17,"y":0.904},{"x":17.6,"y":0.973},{"x":11,"y":0.884},{"x":15.3,"y":0.715},{"x":13.8,"y":0.615},{"x":20,"y":0.781},{"x":21.6,"y":0.85},{"x":22,"y":0.979},{"x":22.5,"y":0.942},{"x":22.7,"y":0.907},{"x":22.8,"y":0.889},{"x":26.4,"y":0.897},{"x":26.2,"y":0.984},{"x":27.7,"y":0.968},{"x":28.2,"y":0.982},{"x":30.5,"y":0.966},{"x":34.4,"y":0.973},{"x":34.2,"y":0.945},{"x":35.2,"y":0.897},{"x":37.7,"y":0.906},{"x":42.5,"y":0.872},{"x":49,"y":0.85},{"x":46.5,"y":0.954},{"x":48.6,"y":0.935},{"x":135,"y":0.966},{"x":156,"y":0.971},{"x":248,"y":0.966},{"x":299,"y":0.977},{"x":377,"y":0.968},{"x":500,"y":0.971},{"x":240,"y":0.953},{"x":279,"y":0.953},{"x":149,"y":0.943},{"x":154,"y":0.934},{"x":162,"y":0.92},{"x":71.4,"y":0.922},{"x":86,"y":0.904},{"x":93.8,"y":0.834},{"x":113,"y":0.819},{"x":59.8,"y":0.963},{"x":67.8,"y":0.961},{"x":66.2,"y":0.953},{"x":78,"y":0.978},{"x":86,"y":0.968},{"x":89,"y":0.961},{"x":258,"y":0.397}
],
"labramp":[
{"x":0.377,"y":1},{"x":1.28,"y":1},{"x":1.44,"y":1},{"x":1.94,"y":1},{"x":16.6,"y":1},{"x":345,"y":1},{"x":476,"y":1},{"x":517,"y":1},{"x":530,"y":1},{"x":730,"y":1},{"x":880,"y":1},{"x":943,"y":1},{"x":1076,"y":1},{"x":1168,"y":1},{"x":1213,"y":1},
{"x":196,"y":1.141},{"x":18.7,"y":0.943},{"x":50.8,"y":0.965},{"x":14.9,"y":0.691},{"x":6.37,"y":0.726},{"x":1.69,"y":0.8},{"x":3.4,"y":0.8},{"x":1.257,"y":0.6},{"x":6.41,"y":0.576},{"x":13.6,"y":0.589},{"x":14.8,"y":0.585},{"x":1.74,"y":0.5},{"x":2.15,"y":0.333},{"x":56.5,"y":0.794},{"x":64.5,"y":0.677},{"x":424,"y":0.957},{"x":367,"y":0.949},{"x":331,"y":0.93},{"x":343,"y":0.923},{"x":268,"y":0.926},{"x":247,"y":0.905},{"x":105,"y":0.942},{"x":115,"y":0.846},{"x":571,"y":0.969},{"x":593,"y":0.981},{"x":625,"y":0.958},{"x":715,"y":0.966},{"x":785,"y":0.956},{"x":817,"y":0.959},{"x":806,"y":0.98},{"x":878,"y":0.973},{"x":873,"y":0.953},{"x":966,"y":0.977},{"x":850,"y":0.92},{"x":1107,"y":0.983},{"x":1222,"y":0.983}
]
},
"hconcat":[
{"width":165,"height":1182,
"encoding":{
"x":{"field":"x","type":"quantitative","scale":{"domain":[-1,1],"nice":false},
"axis":{"values":[0],"title":null,"tickSize":25,"offset":-12.5,"labelPadding":9,"format":"d"}},
"y":{"field":"y","type":"quantitative","scale":{"domain":[-0.1,2.1],"nice":false},
"axis":{"values":[0,0.25,0.5,0.75,1,1.25,1.5,1.75,2],"format":".2f","tickSize":26,"offset":-13,"labelPadding":10,
"title":["INP concentration automated","INP concentration manual"],"titleLineHeight":63,"titlePadding":3}}},
"layer":[
{"data":{"name":"frac"},"mark":{"type":"rule","color":"black","strokeWidth":4,"clip":false},"encoding":{"y2":{"field":"y2"}}},
{"data":{"name":"zeros"},"mark":{"type":"point","filled":true,"size":145,"opacity":1,"color":"#d62728"}}
]},
{"width":1649,"height":1182,
"encoding":{"y":{"field":"y","type":"quantitative","scale":{"domain":[-0.1,2.1],"nice":false},
"axis":{"values":[0,0.25,0.5,0.75,1,1.25,1.5,1.75,2],"labels":false,"tickSize":5,"title":null}}},
"layer":[
{"data":{"name":"tick"},"mark":{"type":"point","opacity":0},
"encoding":{"x":{"field":"x","type":"quantitative","scale":{"type":"log","domain":[0.241,2235],"nice":false},
"axis":{"orient":"bottom","values":[0.3,0.4,0.5,0.6,0.7,0.8,0.9,2,3,4,5,6,7,8,9,20,30,40,50,60,70,80,90,200,300,400,500,600,700,800,900,2000],"labels":false,"tickSize":5,"title":null}}}},
{"encoding":{"x":{"field":"x","type":"quantitative","scale":{"type":"log","domain":[0.241,2235],"nice":false},
"axis":{"orient":"bottom","values":[1,10,100,1000],"tickSize":25,"offset":-12.5,"labelPadding":9,
"labelExpr":"datum.value==1?'10⁰':datum.value==10?'10¹':datum.value==100?'10²':'10³'",
"title":"INP concentration automated / std L⁻¹","titleFontSize":49.5,"titlePadding":6,"titleX":832}},
"color":{"scale":{"domain":["field, const. temp","field, temp ramp","lab, const. temp","lab, temp ramp","CountIce"],"range":["#1f77b4","#ff7f0e","#2ca02c","#d62728","#9467bd"]},
"legend":{"title":null,"orient":"none","legendX":1016,"legendY":776,"symbolType":"circle","symbolSize":165,"labelFontSize":49.5,"labelLimit":600,"labelFont":"DejaVu Sans","labelColor":"black","labelOffset":65,"symbolOffset":28,"rowPadding":22.2,"padding":19,"fillColor":"rgba(255,255,255,0.8)","strokeColor":"#ccc","cornerRadius":6}}},
"layer":[
{"data":{"name":"countice"},"mark":{"type":"point","filled":true,"size":145,"opacity":1},"encoding":{"color":{"datum":"CountIce"}}},
{"data":{"name":"fieldconst"},"mark":{"type":"point","filled":true,"size":145,"opacity":1},"encoding":{"color":{"datum":"field, const. temp"}}},
{"data":{"name":"labconst"},"mark":{"type":"point","filled":true,"size":145,"opacity":1},"encoding":{"color":{"datum":"lab, const. temp"}}},
{"data":{"name":"fieldramp"},"mark":{"type":"point","filled":true,"size":145,"opacity":1},"encoding":{"color":{"datum":"field, temp ramp"}}},
{"data":{"name":"labramp"},"mark":{"type":"point","filled":true,"size":145,"opacity":1},"encoding":{"color":{"datum":"lab, temp ramp"}}}
]}
],
"resolve":{"axis":{"x":"independent"}}}
],
"resolve":{"scale":{"color":"independent"}}
}
